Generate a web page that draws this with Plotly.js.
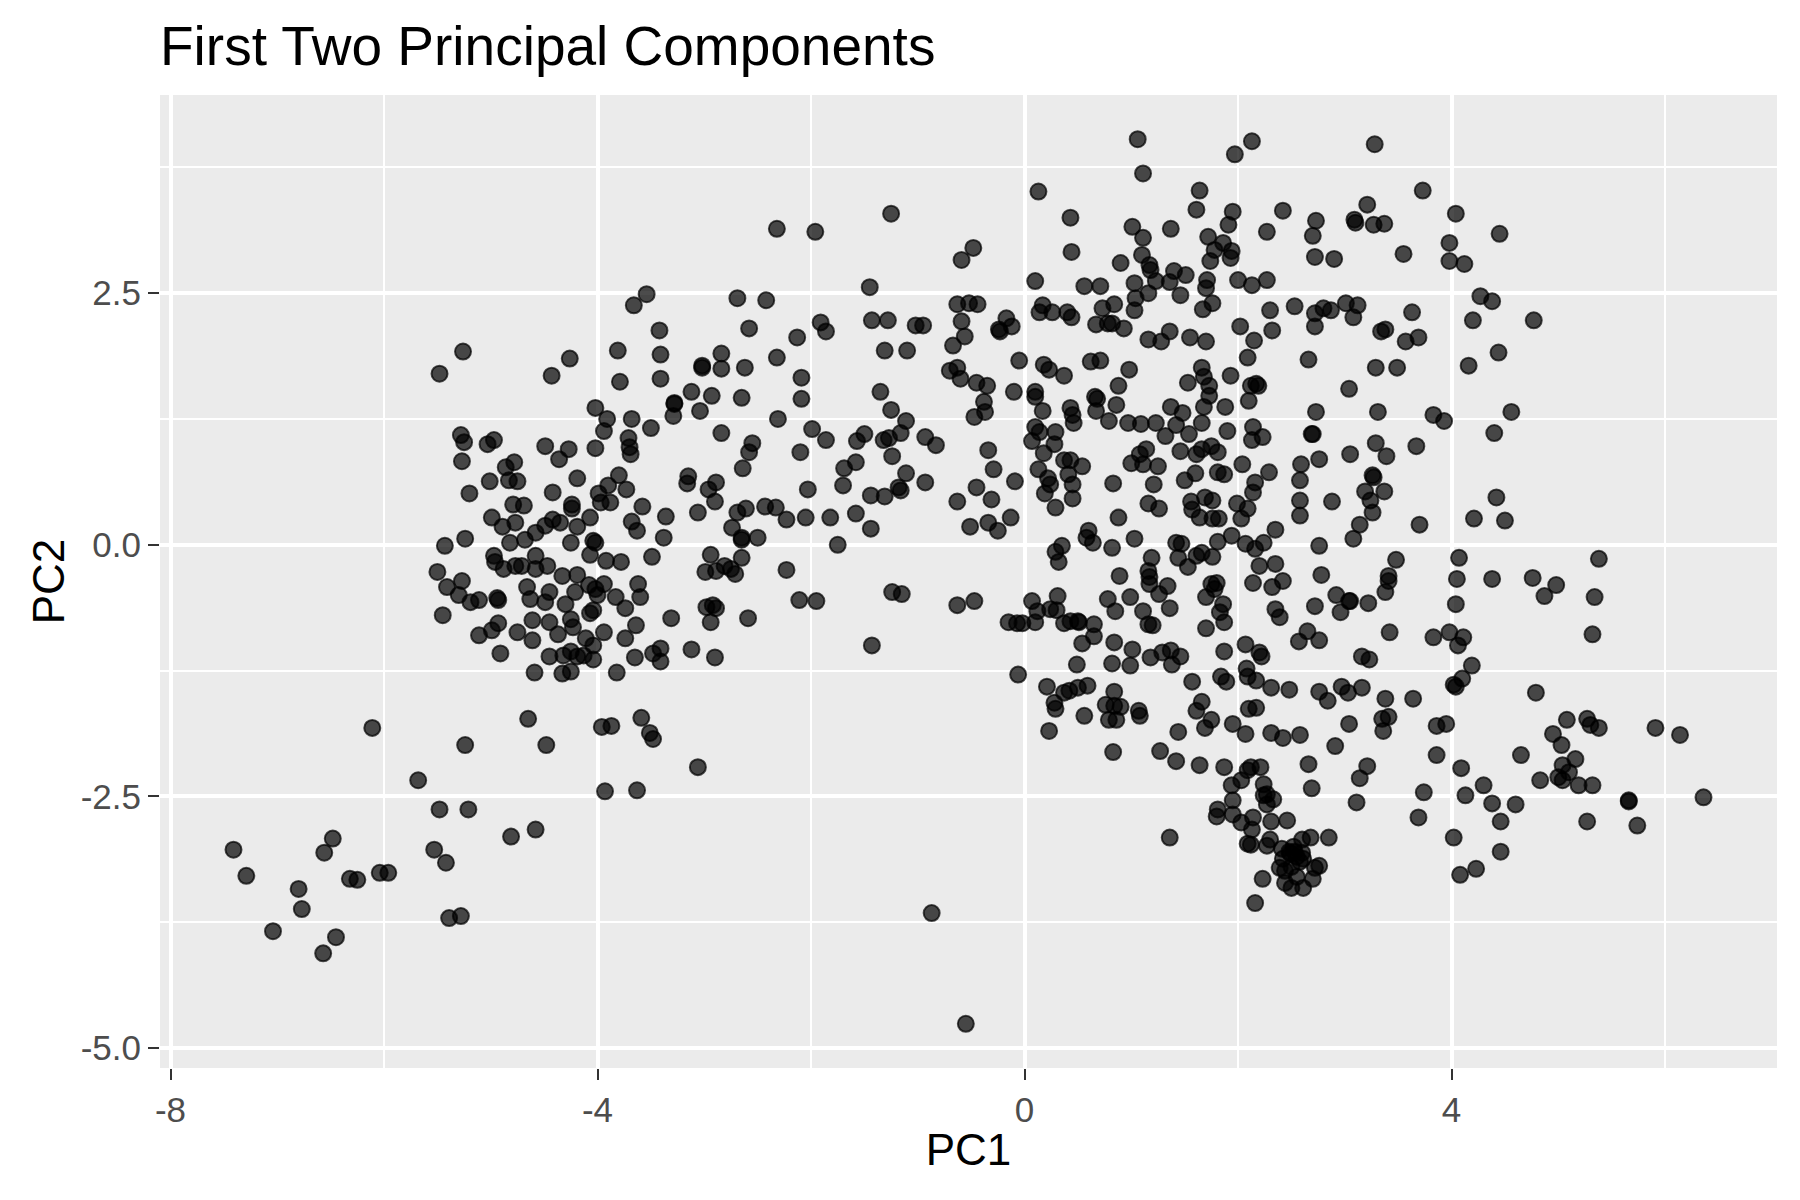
<!DOCTYPE html>
<html>
<head>
<meta charset="utf-8">
<script src="https://cdn.plot.ly/plotly-3.0.1.min.js"></script>
<style>
  html, body { margin: 0; padding: 0; background: #ffffff; }
  #pca { width: 1800px; height: 1200px; }
</style>
</head>
<body>
<div id="pca"></div>
<script>
// Scores, grouped by area of the plot: [PC1, PC2]
var farLeft = [
  [-5.48, 1.70], [-5.26, 1.92],
  [-5.28, 1.09], [-5.25, 1.02], [-5.03, 1.0], [-4.97, 1.04], [-5.27, 0.83], [-4.78, 0.82], [-4.86, 0.77],
  [-5.01, 0.63], [-4.83, 0.64], [-4.75, 0.63], [-5.2, 0.51], [-4.79, 0.40], [-4.69, 0.39], [-4.99, 0.27],
  [-4.89, 0.18], [-4.77, 0.22], [-4.82, 0.02], [-4.68, 0.05], [-4.58, 0.12], [-5.24, 0.06], [-5.43, -0.01],
  [-4.97, -0.11], [-4.96, -0.17], [-4.88, -0.24], [-4.77, -0.21], [-4.71, -0.21], [-4.58, -0.11], [-4.58, -0.24],
  [-5.5, -0.27], [-5.41, -0.42], [-5.27, -0.36], [-5.3, -0.5], [-5.19, -0.57], [-5.11, -0.55], [-4.94, -0.53],
  [-4.93, -0.55], [-4.66, -0.42], [-4.63, -0.54], [-5.45, -0.70], [-5.11, -0.9], [-4.99, -0.85], [-4.93, -0.78],
  [-4.75, -0.87], [-4.61, -0.95], [-4.61, -0.75], [-4.91, -1.08], [-4.59, -1.27], [-4.65, -1.73], [-6.11, -1.82]
];

var lowerLeft = [
  [-5.24, -1.99], [-4.48, -1.99], [-5.68, -2.34], [-5.48, -2.63], [-5.21, -2.63], [-4.81, -2.9], [-4.58, -2.83],
  [-7.41, -3.03], [-7.29, -3.29], [-6.48, -2.92], [-6.56, -3.06], [-6.8, -3.42], [-6.77, -3.62], [-7.04, -3.84],
  [-6.45, -3.9], [-6.57, -4.06], [-6.32, -3.32], [-6.25, -3.33], [-6.04, -3.26], [-5.96, -3.26], [-5.53, -3.03],
  [-5.42, -3.16], [-5.39, -3.71], [-5.28, -3.69],
  [-3.48, -1.93], [-3.93, -2.45], [-3.63, -2.44], [-3.06, -2.21]
];

var upperMiddleLeft = [
  [-2.32, 3.14], [-1.96, 3.11], [-1.25, 3.29], [-1.45, 2.56], [-3.54, 2.49], [-3.66, 2.38], [-2.69, 2.45],
  [-2.42, 2.43], [-2.58, 2.15], [-3.42, 2.13], [-2.13, 2.06], [-1.91, 2.21], [-1.86, 2.12], [-1.43, 2.23],
  [-1.28, 2.23], [-1.02, 2.18], [-4.26, 1.85], [-4.43, 1.68], [-3.81, 1.93], [-3.41, 1.89], [-2.84, 1.9],
  [-3.02, 1.78], [-3.02, 1.76], [-2.84, 1.75], [-2.62, 1.76], [-2.32, 1.86], [-1.31, 1.93], [-1.1, 1.93],
  [-3.79, 1.62], [-3.41, 1.65], [-2.09, 1.66], [-1.35, 1.52], [-3.12, 1.52], [-2.93, 1.48], [-2.65, 1.46],
  [-2.09, 1.45], [-1.25, 1.34], [-4.02, 1.36], [-3.28, 1.41], [-3.28, 1.40], [-3.04, 1.33], [-3.91, 1.25],
  [-3.68, 1.25], [-3.29, 1.28], [-2.31, 1.25], [-1.11, 1.23]
];

var middleLeft = [
  [-3.94, 1.13], [-3.50, 1.16], [-2.84, 1.11], [-1.99, 1.15], [-1.86, 1.04], [-2.1, 0.92], [-2.55, 1.01],
  [-2.58, 0.92], [-2.64, 0.76], [-1.57, 1.03], [-1.5, 1.1], [-1.32, 1.04], [-1.27, 1.06], [-1.16, 1.11],
  [-1.24, 0.88], [-1.58, 0.82], [-1.69, 0.76], [-1.7, 0.59], [-1.11, 0.71], [-1.18, 0.57], [-1.16, 0.54],
  [-1.44, 0.49], [-1.31, 0.48], [-1.58, 0.31], [-1.44, 0.16], [-1.75, 0.0], [-1.82, 0.27], [-2.05, 0.27],
  [-2.03, 0.55], [-2.23, 0.25], [-2.33, 0.37], [-2.43, 0.38], [-2.61, 0.36], [-2.69, 0.32], [-2.74, 0.17],
  [-2.65, 0.07], [-2.65, 0.05], [-2.5, 0.07], [-2.65, -0.13], [-2.94, -0.1], [-2.99, -0.27], [-2.89, -0.26],
  [-2.81, -0.21], [-2.75, -0.24], [-2.71, -0.29], [-2.23, -0.25], [-2.11, -0.55], [-1.95, -0.56], [-1.24, -0.47],
  [-1.15, -0.49], [-1.43, -1.0], [-2.59, -0.73], [-2.98, -0.62], [-2.92, -0.6], [-2.89, -0.63], [-2.94, -0.77],
  [-3.31, -0.73], [-3.12, -1.04], [-2.9, -1.12], [-3.41, -1.03], [-3.41, -1.16], [-3.48, -1.08], [-3.65, -1.12],
  [-3.82, -1.27], [-3.74, -0.93], [-3.64, -0.8], [-3.94, -0.87], [-3.60, -0.52], [-3.62, -0.39], [-3.74, -0.63],
  [-3.83, -0.52], [-3.94, -0.39], [-4.02, -0.44], [-4.08, -0.4], [-4.0, -0.5], [-4.04, -0.65], [-4.07, -0.68],
  [-4.19, -0.3], [-4.21, -0.47], [-4.33, -0.31], [-4.47, -0.21], [-4.45, -0.47], [-4.49, -0.57], [-4.3, -0.59],
  [-4.45, -0.77], [-4.25, -0.74], [-4.23, -0.82], [-4.37, -0.89], [-4.11, -0.93], [-4.04, -1.0], [-4.25, -1.06],
  [-4.19, -1.11], [-4.13, -1.1], [-4.04, -1.14], [-4.32, -1.1], [-4.45, -1.11], [-4.33, -1.28], [-4.25, -1.26],
  [-3.49, -0.12], [-3.38, 0.07], [-3.36, 0.28], [-3.58, 0.38], [-3.68, 0.23], [-3.63, 0.14], [-3.78, -0.17],
  [-3.92, -0.16], [-4.07, -0.1], [-4.04, 0.04], [-4.02, 0.02], [-4.25, 0.02], [-4.07, 0.27], [-4.19, 0.18],
  [-4.35, 0.22], [-4.42, 0.25], [-4.49, 0.19], [-4.24, 0.4], [-4.24, 0.36], [-3.97, 0.42], [-3.88, 0.42],
  [-3.99, 0.51], [-3.9, 0.59], [-3.8, 0.69], [-3.73, 0.55], [-4.42, 0.52], [-4.19, 0.66], [-4.02, 0.96],
  [-4.27, 0.95], [-4.36, 0.85], [-4.49, 0.98], [-3.71, 1.06], [-3.7, 0.97], [-3.69, 0.9], [-3.15, 0.68],
  [-3.16, 0.61], [-2.96, 0.55], [-2.89, 0.62], [-2.9, 0.43], [-3.06, 0.32], [-3.96, -1.81], [-3.87, -1.8],
  [-3.59, -1.72], [-3.51, -1.87]
];

var upperCentre = [
  [1.06, 4.03], [1.11, 3.69], [2.13, 4.01], [1.97, 3.88], [0.13, 3.51], [1.64, 3.52], [1.61, 3.33], [1.95, 3.31],
  [1.91, 3.18], [2.42, 3.32], [2.27, 3.11], [0.43, 3.25], [0.44, 2.91], [1.01, 3.16], [1.11, 3.05], [1.37, 3.14],
  [1.72, 3.06], [1.86, 3.0], [1.78, 2.93], [1.94, 2.92], [1.93, 2.85], [1.74, 2.82], [-0.48, 2.95], [-0.59, 2.83],
  [0.9, 2.8], [1.1, 2.88], [1.17, 2.78], [1.18, 2.73], [1.4, 2.72], [1.51, 2.68], [1.23, 2.62], [1.36, 2.61],
  [1.03, 2.6], [1.71, 2.63], [1.70, 2.55], [2.0, 2.63], [2.13, 2.58], [2.27, 2.63], [0.1, 2.62], [0.56, 2.57],
  [0.71, 2.57], [1.46, 2.48], [1.16, 2.5], [1.04, 2.45], [1.03, 2.33], [1.76, 2.4], [1.67, 2.34], [2.3, 2.33],
  [-0.63, 2.39], [-0.52, 2.4], [-0.44, 2.39], [-0.95, 2.18], [-0.59, 2.22], [-0.56, 2.07], [-0.67, 1.98],
  [-0.17, 2.25], [-0.12, 2.17], [-0.23, 2.12], [-0.24, 2.14], [0.17, 2.38], [0.14, 2.31], [0.26, 2.31],
  [0.4, 2.31], [0.44, 2.26], [0.73, 2.35], [0.84, 2.39], [0.67, 2.19], [0.78, 2.2], [0.82, 2.2], [0.93, 2.15],
  [1.16, 2.04], [1.28, 2.02], [1.36, 2.12], [1.55, 2.06], [1.7, 2.02], [2.02, 2.17], [2.15, 2.03], [2.32, 2.13],
  [2.09, 1.86], [-0.05, 1.83], [-0.7, 1.73], [-0.63, 1.76], [-0.6, 1.65], [-0.45, 1.61], [-0.35, 1.58],
  [-0.1, 1.52], [-0.38, 1.42], [-0.37, 1.32], [-0.47, 1.27], [0.18, 1.79], [0.23, 1.74], [0.37, 1.68],
  [0.62, 1.82], [0.71, 1.83], [0.98, 1.74], [0.88, 1.58], [0.1, 1.52], [0.1, 1.47], [0.17, 1.33], [0.43, 1.36],
  [0.45, 1.29], [0.66, 1.47], [0.68, 1.45], [0.67, 1.33], [0.86, 1.39], [1.37, 1.37], [1.48, 1.31], [1.53, 1.61],
  [1.66, 1.76], [1.68, 1.67], [1.73, 1.58], [1.73, 1.48], [1.68, 1.37], [1.93, 1.68], [1.88, 1.37], [2.1, 1.43],
  [2.12, 1.58], [2.17, 1.6], [2.19, 1.58]
];

var centre = [
  [-0.93, 1.07], [-0.83, 0.99], [-0.93, 0.62], [-0.34, 0.94], [-0.29, 0.75], [-0.09, 0.63], [-0.45, 0.57],
  [-0.63, 0.43], [-0.31, 0.45], [-0.13, 0.27], [-0.51, 0.18], [-0.34, 0.22], [-0.25, 0.14], [-0.63, -0.6],
  [-0.47, -0.56], [-0.06, -1.29], [-0.15, -0.77], [-0.07, -0.78], [-0.02, -0.78], [0.1, 1.17], [0.14, 1.12],
  [0.07, 1.03], [0.29, 1.12], [0.28, 1.0], [0.18, 0.91], [0.13, 0.75], [0.22, 0.66], [0.24, 0.6], [0.19, 0.51],
  [0.29, 0.37], [0.46, 1.21], [0.37, 0.84], [0.43, 0.84], [0.54, 0.78], [0.41, 0.7], [0.45, 0.6], [0.45, 0.46],
  [0.79, 1.23], [0.97, 1.21], [1.09, 1.2], [1.23, 1.21], [1.42, 1.19], [1.66, 1.21], [1.32, 1.08], [1.54, 1.1],
  [1.9, 1.13], [2.14, 1.17], [2.13, 1.04], [2.23, 1.07], [1.0, 0.81], [1.08, 0.9], [1.14, 0.95], [1.11, 0.8],
  [1.25, 0.78], [0.83, 0.61], [1.21, 0.6], [1.46, 0.93], [1.61, 0.9], [1.66, 0.95], [1.75, 0.98], [1.81, 0.92],
  [1.5, 0.64], [1.6, 0.71], [1.81, 0.72], [1.87, 0.7], [2.04, 0.8], [2.29, 0.72], [2.16, 0.62], [2.14, 0.52],
  [1.16, 0.41], [1.26, 0.36], [1.56, 0.43], [1.57, 0.35], [1.64, 0.27], [1.69, 0.47], [1.76, 0.44], [1.76, 0.26],
  [1.82, 0.26], [1.99, 0.41], [2.09, 0.36], [2.03, 0.26], [0.88, 0.27], [0.6, 0.14], [0.58, 0.07], [0.64, 0.02],
  [1.03, 0.06], [0.82, -0.03], [0.35, -0.01], [0.29, -0.07], [0.32, -0.17], [1.42, 0.02], [1.47, 0.01],
  [1.44, -0.13], [1.53, -0.22], [1.61, -0.11], [1.66, -0.08], [1.76, -0.12], [1.81, 0.03], [1.94, 0.09],
  [2.07, 0.01], [2.16, -0.04], [2.24, 0.02], [2.35, 0.15], [2.2, -0.21], [2.35, -0.19], [2.14, -0.38],
  [2.32, -0.42], [2.42, -0.36], [2.35, -0.64], [2.39, -0.72], [1.19, -0.13], [1.16, -0.26], [1.17, -0.32],
  [1.17, -0.39], [1.26, -0.49], [1.34, -0.41], [0.89, -0.31], [0.78, -0.54], [0.85, -0.66], [0.99, -0.52],
  [1.11, -0.66], [1.16, -0.79], [1.2, -0.8], [1.36, -0.63], [1.7, -0.52], [1.75, -0.39], [1.8, -0.38],
  [1.78, -0.44], [1.86, -0.59], [1.83, -0.67], [1.87, -0.77], [1.7, -0.83], [1.87, -1.06], [2.07, -0.99],
  [2.2, -1.07], [2.22, -1.11], [2.08, -1.23], [2.09, -1.31], [2.17, -1.35], [1.84, -1.31], [1.89, -1.36],
  [2.31, -1.42], [2.48, -1.44], [1.57, -1.36], [0.07, -0.56], [0.1, -0.77], [0.12, -0.66], [0.24, -0.64],
  [0.31, -0.51], [0.3, -0.65], [0.37, -0.78], [0.43, -0.76], [0.5, -0.76], [0.51, -0.77], [0.65, -0.79],
  [0.65, -0.91], [0.54, -0.98], [0.84, -0.97], [1.01, -1.04], [1.18, -1.12], [1.29, -1.07], [1.37, -1.05],
  [1.46, -1.11], [1.38, -1.19], [0.82, -1.18], [0.99, -1.2], [0.49, -1.19], [0.21, -1.41], [0.28, -1.57],
  [0.29, -1.63], [0.37, -1.47], [0.42, -1.45], [0.5, -1.42], [0.59, -1.4], [0.56, -1.7], [0.23, -1.85],
  [0.84, -1.46], [0.76, -1.59], [0.84, -1.6], [0.9, -1.61], [0.79, -1.74], [0.86, -1.74], [1.07, -1.65],
  [1.08, -1.7], [1.44, -1.86], [1.66, -1.56], [1.61, -1.65], [1.75, -1.74], [1.69, -1.82], [1.95, -1.78],
  [2.1, -1.63], [2.17, -1.62], [2.07, -1.88], [2.31, -1.87], [2.42, -1.92]
];

var lowerCentre = [
  [0.83, -2.06], [1.27, -2.05], [1.42, -2.15], [1.64, -2.19], [1.87, -2.21], [2.09, -2.24], [2.12, -2.21],
  [2.21, -2.21], [2.03, -2.34], [1.94, -2.39], [2.24, -2.38], [2.27, -2.48], [2.24, -2.49], [2.33, -2.53],
  [2.27, -2.58], [1.95, -2.54], [1.81, -2.63], [1.8, -2.7], [1.95, -2.68], [2.03, -2.76], [2.14, -2.71],
  [2.13, -2.83], [2.31, -2.75], [2.46, -2.74], [2.09, -2.97], [2.12, -2.98], [2.27, -2.99], [2.3, -2.93],
  [2.41, -3.02], [2.49, -3.07], [2.42, -3.12], [2.39, -3.21], [2.44, -3.24], [2.23, -3.32], [2.44, -3.36],
  [2.5, -3.41], [2.16, -3.56], [1.36, -2.91], [-0.87, -3.66], [-0.55, -4.76],
  [2.52, -3.0], [2.55, -3.1], [2.58, -3.15], [2.5, -3.2], [2.55, -3.3], [2.48, -3.05], [2.53, -3.05]
];

var upperRight = [
  [3.28, 3.98], [3.73, 3.52], [3.21, 3.38], [3.09, 3.23], [3.1, 3.2], [3.27, 3.18], [3.37, 3.19], [2.73, 3.22],
  [2.7, 3.07], [2.72, 2.86], [2.9, 2.84], [3.55, 2.89], [4.04, 3.29], [3.98, 3.0], [3.98, 2.82], [4.12, 2.79],
  [4.45, 3.09], [4.27, 2.47], [4.38, 2.42], [4.2, 2.23], [4.77, 2.23], [4.44, 1.91], [4.16, 1.78], [4.56, 1.32],
  [3.83, 1.29], [3.93, 1.23], [2.53, 2.37], [2.72, 2.3], [2.8, 2.35], [2.87, 2.33], [3.01, 2.4], [3.12, 2.38],
  [3.08, 2.26], [2.72, 2.17], [3.34, 2.12], [3.38, 2.14], [3.57, 2.02], [3.69, 2.06], [3.63, 2.31], [2.66, 1.84],
  [3.29, 1.76], [3.49, 1.76], [3.04, 1.55], [2.73, 1.32], [3.31, 1.32]
];

var middleRight = [
  [4.4, 1.11], [2.69, 1.1], [2.7, 1.1], [3.29, 1.01], [3.39, 0.88], [3.67, 0.98], [3.05, 0.9], [2.76, 0.85],
  [2.59, 0.8], [2.58, 0.64], [3.26, 0.69], [3.27, 0.67], [3.19, 0.53], [3.37, 0.53], [3.24, 0.44], [3.26, 0.32],
  [2.88, 0.43], [2.58, 0.44], [2.58, 0.29], [3.14, 0.2], [3.08, 0.06], [3.7, 0.2], [4.42, 0.47], [4.21, 0.26],
  [4.5, 0.24], [2.76, -0.01], [3.48, -0.15], [2.78, -0.3], [3.41, -0.31], [3.41, -0.36], [3.38, -0.47],
  [2.92, -0.5], [3.04, -0.56], [3.05, -0.56], [3.22, -0.58], [2.72, -0.61], [2.96, -0.67], [4.07, -0.13],
  [4.05, -0.34], [4.04, -0.59], [4.38, -0.34], [4.76, -0.33], [4.98, -0.4], [4.87, -0.51], [5.38, -0.14],
  [5.34, -0.52], [5.32, -0.89], [2.65, -0.86], [2.57, -0.96], [2.76, -0.95], [3.42, -0.87], [3.83, -0.92],
  [3.98, -0.87], [4.11, -0.92], [4.06, -1.0], [3.16, -1.11], [3.23, -1.14], [4.19, -1.2], [4.1, -1.33],
  [4.02, -1.39], [4.04, -1.41], [4.79, -1.47], [2.76, -1.46], [2.84, -1.55], [2.97, -1.41], [3.03, -1.47],
  [3.16, -1.42], [3.38, -1.53], [3.64, -1.53], [3.04, -1.78], [3.35, -1.73], [3.41, -1.71], [3.36, -1.85],
  [3.86, -1.8], [3.95, -1.78], [5.08, -1.74], [5.27, -1.73], [5.3, -1.79], [5.38, -1.82], [4.95, -1.88],
  [5.91, -1.82], [6.14, -1.89], [2.58, -1.89]
];

var lowerRight = [
  [2.91, -2.0], [2.66, -2.18], [3.21, -2.2], [3.14, -2.32], [2.69, -2.42], [3.11, -2.56], [3.86, -2.09],
  [3.74, -2.46], [3.69, -2.71], [4.09, -2.22], [4.13, -2.49], [4.3, -2.39], [4.38, -2.57], [4.6, -2.58],
  [4.46, -2.75], [4.65, -2.09], [4.02, -2.91], [4.46, -3.05], [4.23, -3.22], [4.08, -3.28], [5.03, -1.99],
  [5.16, -2.13], [5.04, -2.19], [5.1, -2.26], [5.0, -2.31], [5.04, -2.34], [4.83, -2.34], [5.19, -2.39],
  [5.32, -2.39], [5.27, -2.75], [5.66, -2.54], [5.66, -2.55], [5.74, -2.79], [6.36, -2.51], [2.85, -2.91],
  [2.68, -2.91], [2.6, -2.93], [2.6, -3.06], [2.61, -3.12], [2.76, -3.19], [2.72, -3.21], [2.7, -3.32],
  [2.61, -3.41]
];

// tick labels as printed (plain hyphen, not the unicode minus)
var pc1Ticks = [-8, -4, 0, 4];
var pc1TickText = ['-8', '-4', '0', '4'];
var pc2Ticks = [-5, -2.5, 0, 2.5];
var pc2TickText = ['-5.0', '-2.5', '0.0', '2.5'];

var scores = [].concat(farLeft, lowerLeft, upperMiddleLeft, middleLeft,
  upperCentre, centre, lowerCentre, upperRight, middleRight, lowerRight);

var pc1 = scores.map(function(p) { return p[0]; });
var pc2 = scores.map(function(p) { return p[1]; });

// ggplot style: 5% padding around the data
function padRange(v) {
  var lo = Math.min.apply(null, v), hi = Math.max.apply(null, v);
  var pad = (hi - lo) * 0.05;
  return [lo - pad, hi + pad];
}

var fontFamily = '"Liberation Sans", Arial, Helvetica, sans-serif';

var trace = {
  x: pc1,
  y: pc2,
  mode: 'markers',
  type: 'scatter',
  hoverinfo: 'x+y',
  marker: {
    color: 'rgba(0,0,0,0.7)',
    size: 16,
    line: { color: 'rgba(0,0,0,0.7)', width: 2 }
  }
};

var axisCommon = {
  showline: false,
  zeroline: false,
  showgrid: true,
  gridcolor: '#FFFFFF',
  gridwidth: 4,
  ticks: 'outside',
  ticklen: 11,
  tickwidth: 2.2,
  tickcolor: '#333333',
  tickfont: { family: fontFamily, size: 35, color: '#4D4D4D' },
  tickmode: 'array',
  autorange: false,
  fixedrange: true
};

var layout = {
  width: 1800,
  height: 1200,
  paper_bgcolor: '#FFFFFF',
  plot_bgcolor: '#EBEBEB',
  showlegend: false,
  margin: { l: 160, r: 23, t: 95, b: 132 },
  title: {
    text: 'First Two Principal Components',
    font: { family: fontFamily, size: 55, color: '#000000' },
    x: 0,
    xref: 'paper',
    xanchor: 'left',
    y: 0.962,
    yref: 'container',
    yanchor: 'middle'
  },
  xaxis: Object.assign({}, axisCommon, {
    range: padRange(pc1),
    tickvals: pc1Ticks,
    ticktext: pc1TickText,
    minor: { showgrid: true, gridcolor: '#FFFFFF', gridwidth: 2, tickmode: 'linear', tick0: 0, dtick: 2, ticks: '' },
    title: { text: 'PC1', font: { family: fontFamily, size: 44, color: '#000000' }, standoff: 6 }
  }),
  yaxis: Object.assign({}, axisCommon, {
    range: padRange(pc2),
    tickvals: pc2Ticks,
    ticktext: pc2TickText,
    minor: { showgrid: true, gridcolor: '#FFFFFF', gridwidth: 2, tickmode: 'linear', tick0: 0, dtick: 1.25, ticks: '' },
    title: { text: 'PC2', font: { family: fontFamily, size: 44, color: '#000000' }, standoff: 2 }
  })
};

Plotly.newPlot('pca', [trace], layout, { displayModeBar: false, responsive: false });
</script>
</body>
</html>
